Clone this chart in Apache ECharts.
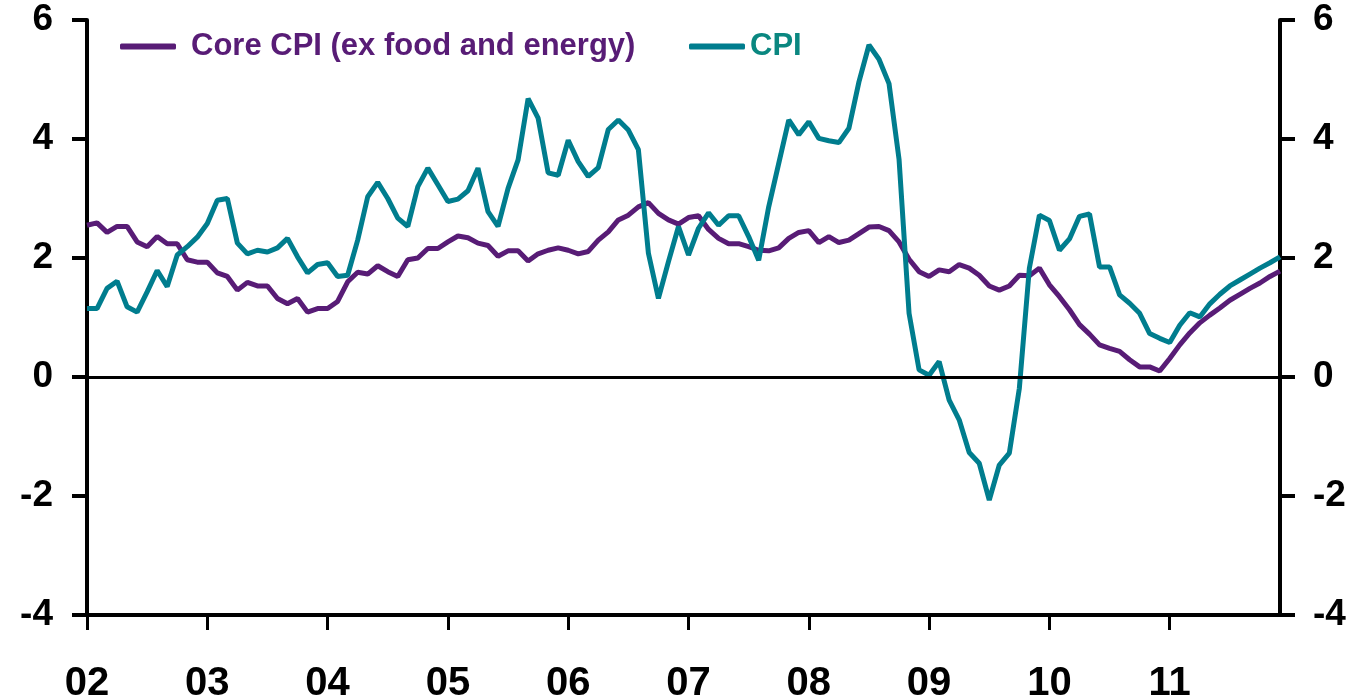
<!DOCTYPE html>
<html>
<head>
<meta charset="UTF-8">
<title>CPI</title>
<script src="https://cdn.jsdelivr.net/npm/echarts@6/dist/echarts.min.js"></script>
<style>
  html, body { margin: 0; padding: 0; background: #fff; }
  #main { width: 1354px; height: 700px; }
</style>
</head>
<body>
<div id="main"></div>
<script>
// year labels, one category per month from Jan 02 to Dec 11
var years = ['02', '03', '04', '05', '06', '07', '08', '09', '10', '11'];
var yTicks = [-4, -2, 0, 2, 4, 6];

// Core CPI (ex food and energy), % y/y
var core = [
  2.55, 2.59, 2.43, 2.53, 2.53, 2.27, 2.19, 2.36, 2.24, 2.24, 1.97, 1.93,
  1.93, 1.75, 1.69, 1.46, 1.59, 1.53, 1.53, 1.32, 1.23, 1.32, 1.09, 1.15,
  1.15, 1.27, 1.60, 1.76, 1.73, 1.87, 1.77, 1.69, 1.97, 2.00, 2.16, 2.16,
  2.27, 2.37, 2.34, 2.25, 2.21, 2.03, 2.12, 2.12, 1.95, 2.07, 2.13, 2.17,
  2.13, 2.07, 2.11, 2.30, 2.44, 2.64, 2.72, 2.86, 2.93, 2.75, 2.64, 2.57,
  2.68, 2.71, 2.48, 2.33, 2.24, 2.24, 2.19, 2.13, 2.12, 2.17, 2.33, 2.43,
  2.46, 2.26, 2.36, 2.26, 2.30, 2.41, 2.52, 2.53, 2.46, 2.27, 1.98, 1.77,
  1.69, 1.80, 1.77, 1.89, 1.83, 1.71, 1.53, 1.46, 1.53, 1.71, 1.70, 1.83,
  1.55, 1.35, 1.13, 0.88, 0.72, 0.54, 0.48, 0.43, 0.29, 0.17, 0.17, 0.10,
  0.31, 0.54, 0.74, 0.91, 1.04, 1.16, 1.29, 1.39, 1.49, 1.58, 1.69, 1.78
];

// headline CPI, % y/y
var cpi = [
  1.15, 1.15, 1.49, 1.61, 1.18, 1.09, 1.43, 1.79, 1.52, 2.05, 2.19, 2.35,
  2.58, 2.97, 3.00, 2.25, 2.07, 2.13, 2.10, 2.17, 2.33, 2.02, 1.75, 1.89,
  1.92, 1.69, 1.71, 2.30, 3.03, 3.27, 3.00, 2.67, 2.53, 3.20, 3.51, 3.23,
  2.95, 2.99, 3.13, 3.51, 2.78, 2.53, 3.17, 3.65, 4.68, 4.35, 3.43, 3.39,
  3.98, 3.62, 3.37, 3.52, 4.16, 4.32, 4.15, 3.82, 2.08, 1.32, 1.94, 2.53,
  2.05, 2.50, 2.76, 2.55, 2.71, 2.71, 2.36, 1.96, 2.86, 3.59, 4.32, 4.07,
  4.29, 4.01, 3.97, 3.94, 4.18, 4.96, 5.58, 5.34, 4.93, 3.66, 1.07, 0.12,
  0.03, 0.26, -0.39, -0.72, -1.27, -1.45, -2.07, -1.48, -1.28, -0.19, 1.83, 2.72,
  2.63, 2.13, 2.32, 2.70, 2.74, 1.85, 1.85, 1.38, 1.24, 1.07, 0.73, 0.65,
  0.58, 0.87, 1.08, 1.01, 1.23, 1.39, 1.53, 1.63, 1.73, 1.83, 1.92, 2.02
];

var months = [];
for (var y = 0; y < years.length; y++) {
  for (var m = 1; m <= 12; m++) {
    months.push(years[y] + '-' + (m < 10 ? '0' + m : m));
  }
}

var purple = '#581c76';
var teal = '#007d8e';
var font = "'Liberation Sans', Arial, sans-serif";

function yAxisCfg(pos, margin) {
  return {
    type: 'value',
    position: pos,
    min: yTicks[0],
    max: yTicks[yTicks.length - 1],
    interval: 2,
    axisLine: { show: true, lineStyle: { color: '#000', width: 4 } },
    axisTick: { show: true, inside: false, length: 15, lineStyle: { color: '#000', width: 4 } },
    axisLabel: { margin: margin, color: '#000', fontSize: 37, fontWeight: 'bold', fontFamily: font },
    splitLine: { show: false }
  };
}

var myChart = echarts.init(document.getElementById('main'));
var option = {
  animation: false,
  grid: { left: 87, right: 74, top: 20, bottom: 85, containLabel: false, outerBoundsMode: 'none' },
  legend: [
    {
      data: ['Core CPI (ex food and energy)'],
      left: 115, top: 26,
      icon: 'roundRect', itemWidth: 56, itemHeight: 6,
      textStyle: { color: purple, fontSize: 31, fontWeight: 'bold', fontFamily: font, padding: [0, 0, 0, 10] }
    },
    {
      data: ['CPI'],
      left: 684, top: 26,
      icon: 'roundRect', itemWidth: 56, itemHeight: 6,
      textStyle: { color: '#0a8780', fontSize: 31, fontWeight: 'bold', fontFamily: font }
    }
  ],
  xAxis: {
    type: 'category',
    data: months,
    boundaryGap: false,
    axisLine: { onZero: false, lineStyle: { color: '#000', width: 4 } },
    axisTick: { show: true, interval: 11, length: 15, lineStyle: { color: '#000', width: 3 } },
    axisLabel: {
      interval: 11, margin: 49, color: '#000', fontSize: 40, fontWeight: 'bold', fontFamily: font,
      formatter: function (v) { return v.slice(0, 2); }
    },
    splitLine: { show: false }
  },
  yAxis: [yAxisCfg('left', 34), yAxisCfg('right', 33)],
  series: [
    {
      name: 'Core CPI (ex food and energy)',
      type: 'line',
      data: core,
      showSymbol: false,
      symbol: 'none',
      itemStyle: { color: purple },
      lineStyle: { color: purple, width: 5 },
      markLine: {
        silent: true,
        symbol: 'none',
        label: { show: false },
        lineStyle: { color: '#000', width: 3, type: 'solid' },
        data: [{ yAxis: 0 }]
      }
    },
    {
      name: 'CPI',
      type: 'line',
      data: cpi,
      showSymbol: false,
      symbol: 'none',
      itemStyle: { color: teal },
      lineStyle: { color: teal, width: 5 }
    }
  ]
};
myChart.setOption(option);
</script>
</body>
</html>
